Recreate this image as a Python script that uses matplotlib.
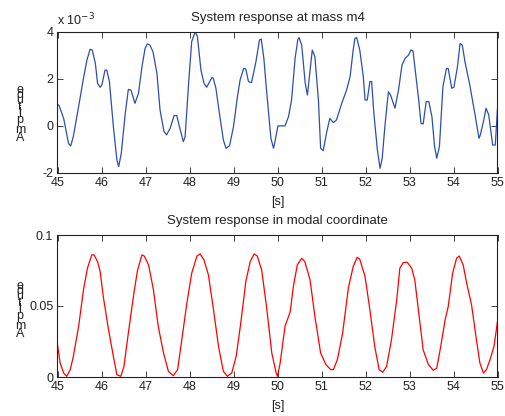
import matplotlib
matplotlib.use("Agg")
import matplotlib.pyplot as plt
import numpy as np

plt.rcParams['font.family'] = ['Liberation Sans', 'DejaVu Sans']

# Top: system response at mass m4 (units of 1e-3)
t1 = [45.0, 45.04, 45.14, 45.25, 45.30, 45.36, 45.48, 45.59, 45.67, 45.74, 45.79, 45.86, 45.91, 45.97,
      46.01, 46.08, 46.12, 46.18, 46.27, 46.35, 46.39, 46.45, 46.54, 46.61, 46.67, 46.76, 46.84, 46.92,
      46.99, 47.04, 47.10, 47.17, 47.26, 47.33, 47.42, 47.48, 47.56, 47.65, 47.71, 47.79, 47.86, 47.90,
      47.98, 48.05, 48.13, 48.18, 48.26, 48.33, 48.39, 48.51, 48.54, 48.60, 48.68, 48.77, 48.83, 48.91,
      49.00, 49.09, 49.15, 49.23, 49.28, 49.34, 49.41, 49.51, 49.59, 49.63, 49.69, 49.75, 49.85, 49.91,
      49.95, 50.01, 50.17, 50.25, 50.32, 50.40, 50.46, 50.49, 50.55, 50.63, 50.68, 50.74, 50.79, 50.85,
      50.93, 50.98, 51.04, 51.12, 51.19, 51.27, 51.34, 51.46, 51.57, 51.65, 51.72, 51.76, 51.80, 51.87,
      51.95, 51.99, 52.04, 52.10, 52.14, 52.19, 52.27, 52.33, 52.38, 52.44, 52.52, 52.57, 52.67, 52.75,
      52.83, 52.90, 52.98, 53.03, 53.08, 53.13, 53.21, 53.26, 53.31, 53.38, 53.44, 53.51, 53.57, 53.62,
      53.68, 53.76, 53.84, 53.88, 53.96, 54.01, 54.09, 54.15, 54.20, 54.26, 54.37, 54.49, 54.58, 54.61,
      54.68, 54.74, 54.80, 54.89, 54.95, 55.0]
y1 = [0.93, 0.85, 0.32, -0.74, -0.85, -0.45, 0.82, 2.02, 2.80, 3.25, 3.22, 2.66, 1.81, 1.64,
      1.74, 2.37, 2.37, 1.88, -0.03, -1.45, -1.73, -1.16, 0.53, 1.55, 1.52, 0.96, 1.38, 2.51,
      3.29, 3.48, 3.43, 3.15, 2.23, 0.68, -0.24, -0.38, -0.10, 0.44, 0.44, -0.17, -0.67, -0.46,
      1.81, 3.58, 4.00, 3.79, 2.37, 1.81, 1.64, 2.06, 2.02, 1.60, 0.53, -0.60, -0.95, -0.84,
      -0.03, 1.24, 1.95, 2.44, 2.42, 1.88, 1.84, 2.73, 3.65, 3.69, 2.87, 1.53, -0.53, -0.95,
      -0.60, 0.00, 0.00, 0.39, 1.10, 2.87, 3.65, 3.75, 3.43, 1.81, 1.31, 2.37, 3.22, 2.94,
      1.10, -0.95, -1.05, -0.24, 0.32, 0.14, 0.25, 0.96, 1.52, 2.09, 3.22, 3.72, 3.75, 3.22,
      2.09, 1.10, 1.10, 1.88, 1.88, 0.53, -1.02, -1.80, -1.37, -0.03, 1.45, 1.31, 0.75, 1.52,
      2.59, 2.87, 3.01, 3.22, 3.19, 2.37, 1.10, 0.11, 0.08, 1.03, 1.03, 0.39, -0.88, -1.37,
      -0.88, 1.67, 2.44, 2.43, 1.60, 1.64, 2.51, 3.50, 3.43, 2.73, 1.74, 0.47, -0.53, -0.38,
      0.18, 0.75, 0.47, -0.81, -0.81, 0.75]

# Bottom: system response in modal coordinate
t2 = [45.0, 45.06, 45.14, 45.21, 45.29, 45.36, 45.48, 45.59, 45.68, 45.78, 45.83, 45.91, 45.97, 46.04,
      46.16, 46.27, 46.35, 46.44, 46.51, 46.61, 46.73, 46.82, 46.92, 46.97, 47.07, 47.18, 47.29, 47.41,
      47.52, 47.63, 47.73, 47.82, 47.94, 48.05, 48.17, 48.24, 48.33, 48.43, 48.54, 48.66, 48.77, 48.86,
      48.96, 49.06, 49.16, 49.28, 49.38, 49.47, 49.54, 49.64, 49.75, 49.87, 49.97, 50.00, 50.06, 50.17,
      50.29, 50.36, 50.45, 50.55, 50.62, 50.74, 50.85, 50.98, 51.10, 51.21, 51.27, 51.36, 51.48, 51.61,
      51.72, 51.81, 51.87, 51.99, 52.10, 52.21, 52.31, 52.39, 52.48, 52.59, 52.71, 52.78, 52.86, 52.95,
      53.05, 53.12, 53.22, 53.31, 53.43, 53.54, 53.62, 53.71, 53.81, 53.88, 53.98, 54.07, 54.13, 54.22,
      54.30, 54.41, 54.51, 54.60, 54.68, 54.75, 54.83, 54.92, 55.0]
y2 = [0.0227, 0.0098, 0.0028, 0.0005, 0.0052, 0.0145, 0.0356, 0.0614, 0.0766, 0.0860, 0.0860, 0.0813, 0.0742, 0.0567,
      0.0333, 0.0145, 0.0016, 0.0005, 0.0075, 0.0309, 0.0578, 0.0754, 0.0860, 0.0852, 0.0789, 0.0614, 0.0356, 0.0169,
      0.0040, 0.0009, 0.0052, 0.0251, 0.0520, 0.0731, 0.0852, 0.0867, 0.0824, 0.0719, 0.0485, 0.0215, 0.0040, 0.0005,
      0.0028, 0.0145, 0.0368, 0.0672, 0.0813, 0.0867, 0.0852, 0.0754, 0.0496, 0.0169, 0.0028, 0.0005, 0.0098, 0.0356,
      0.0461, 0.0637, 0.0789, 0.0836, 0.0813, 0.0684, 0.0426, 0.0169, 0.0087, 0.0052, 0.0052, 0.0122, 0.0309, 0.0625,
      0.0778, 0.0843, 0.0829, 0.0707, 0.0473, 0.0215, 0.0052, 0.0033, 0.0075, 0.0262, 0.0543, 0.0766, 0.0806, 0.0808,
      0.0766, 0.0684, 0.0426, 0.0192, 0.0087, 0.0047, 0.0063, 0.0215, 0.0403, 0.0496, 0.0731, 0.0836, 0.0852, 0.0789,
      0.0660, 0.0508, 0.0286, 0.0098, 0.0028, 0.0052, 0.0122, 0.0215, 0.0391]

xticks = [45, 46, 47, 48, 49, 50, 51, 52, 53, 54, 55]
yticks1 = [-2, 0, 2, 4]
yticks2 = [0, 0.05, 0.1]
ylabel_text = "Amplitude"

W, H = 506, 416
fig = plt.figure(figsize=(W / 100, H / 100), dpi=100)
fs = 9

def px_axes(l, t, r, b):
    return fig.add_axes([l / W, 1 - b / H, (r - l) / W, (b - t) / H])

ax1 = px_axes(57.5, 31.7, 497.5, 173)
ax2 = px_axes(57.5, 235, 497.5, 377)

ax1.plot(t1, y1, color='#2c4fae', lw=0.9)
ax2.plot(t2, y2, color='#ff0000', lw=0.9)

ax1.set_ylim(-2, 4)
ax1.set_yticks(yticks1)
ax1.set_yticklabels(['-2', '0', '2', '4'])
ax2.set_ylim(0, 0.1)
ax2.set_yticks(yticks2)
ax2.set_yticklabels(['0', '0.05', '0.1'])

for ax, title in [(ax1, 'System response at mass m4'), (ax2, 'System response in modal coordinate')]:
    ax.set_xlim(45, 55)
    ax.set_xticks(xticks)
    ax.tick_params(direction='in', top=True, right=True, labelsize=fs, length=4, width=0.6,
                   pad=3, colors='#222222')
    for s in ax.spines.values():
        s.set_linewidth(0.8)
        s.set_color('#222222')
    ax.set_title(title, fontsize=fs + 0.5, pad=8, color='#222222')
    ax.set_xlabel('[s]', fontsize=fs, labelpad=5, color='#222222')

ax1.text(0.0, 1.025, r'x 10$^{-3}$', transform=ax1.transAxes, fontsize=fs,
         ha='left', va='bottom', color='#222222')

# stacked ylabel letters (as drawn in the reference)
def stacked_label(y_bottom_px):
    offsets = [0, 8, 18, 24, 27, 31, 38, 43, 48]
    for ch, off in zip(ylabel_text, offsets):
        fig.text(20 / W, 1 - (y_bottom_px - off) / H, ch, fontsize=fs, ha='center',
                 va='center', color='#222222')

stacked_label(138)
stacked_label(334)

fig.savefig('out.png', dpi=100)
